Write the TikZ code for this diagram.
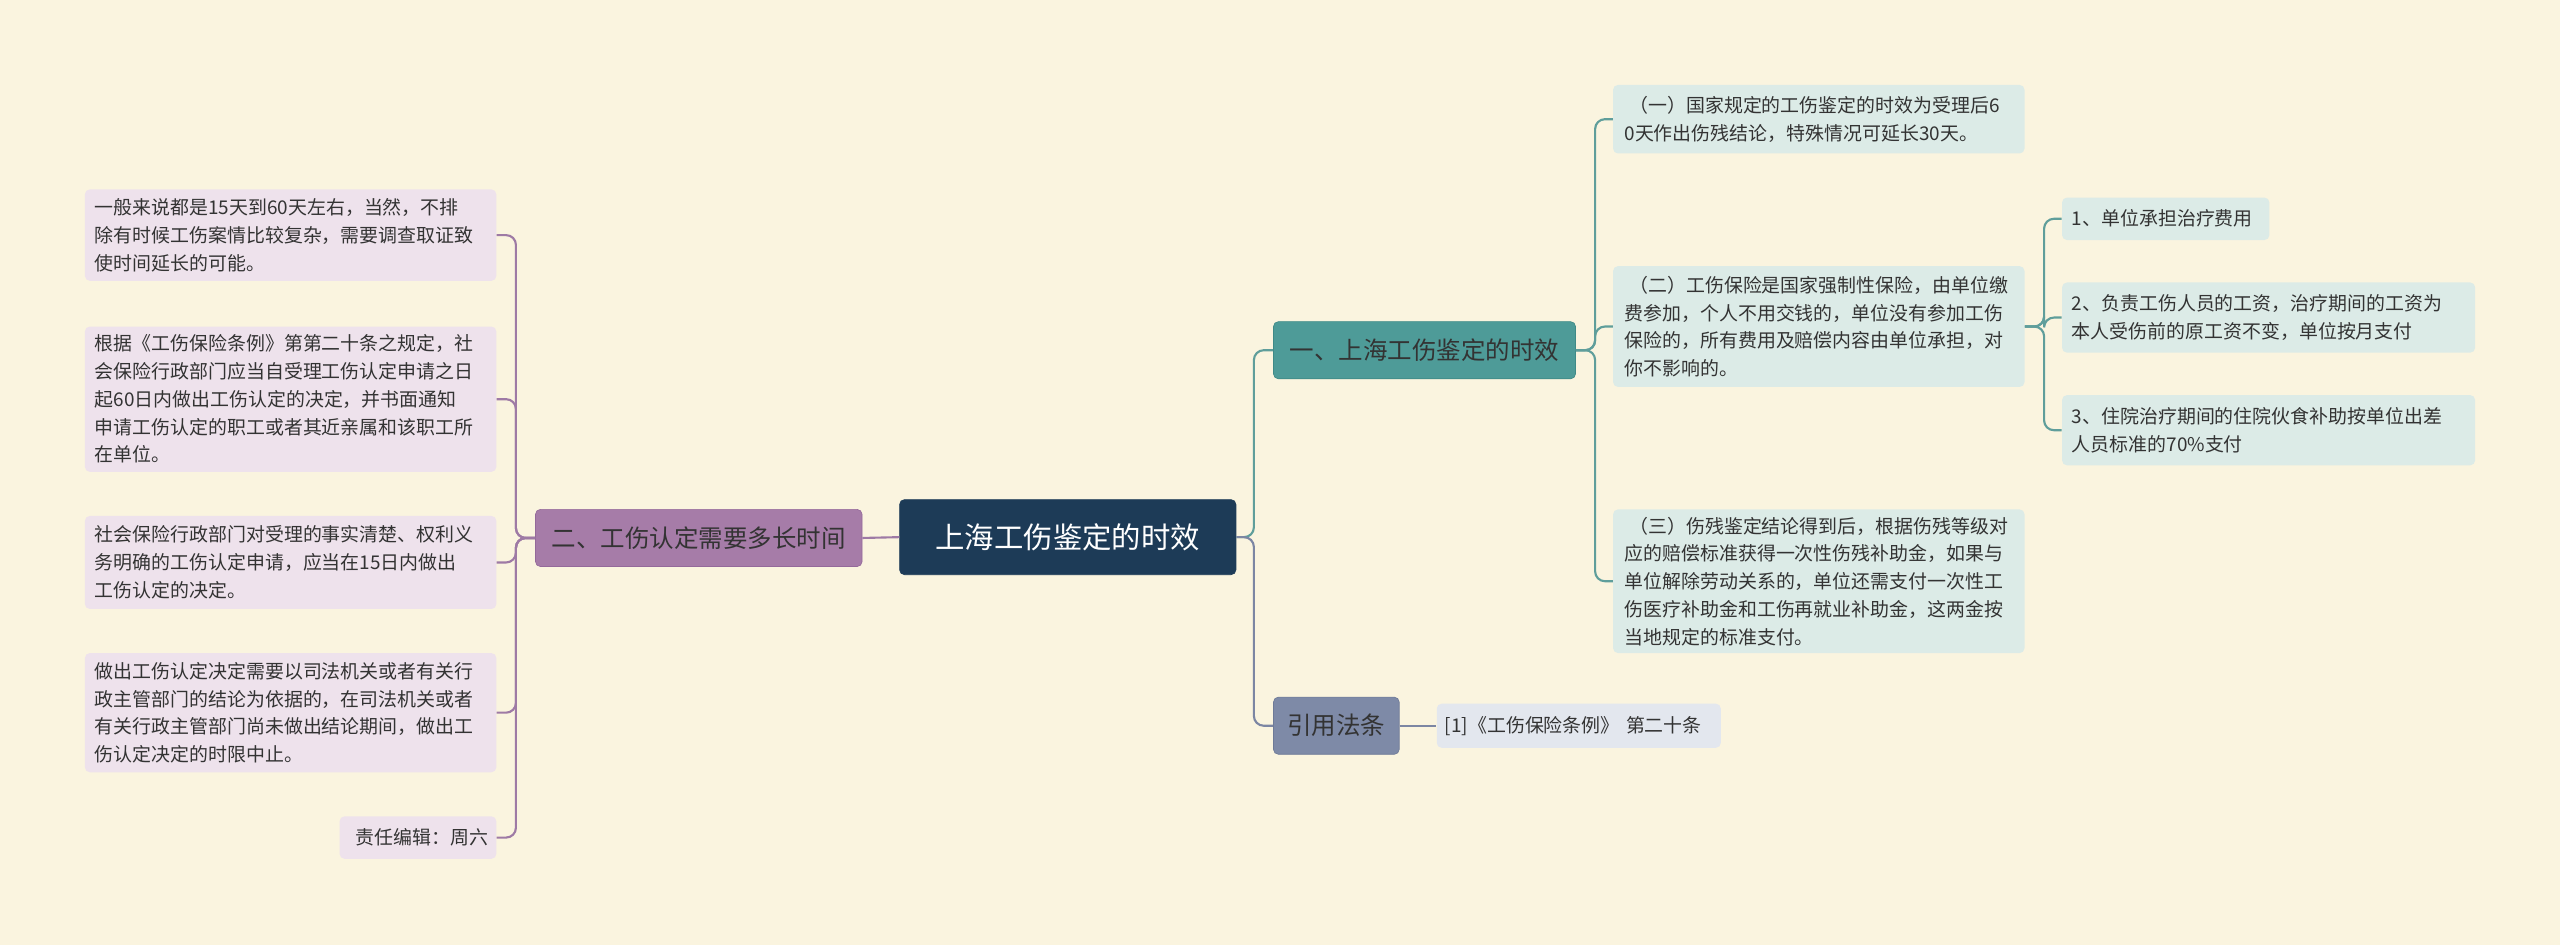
\documentclass[tikz,border=0pt]{standalone}
\usepackage{fontspec}
\setmainfont{Noto Sans CJK SC}
\definecolor{bg}{HTML}{FAF4DF}
\definecolor{leafc}{HTML}{DCEBE7}
\definecolor{leafp}{HTML}{EEE2EC}
\definecolor{refc}{HTML}{E3E7EE}
\definecolor{textc}{HTML}{333333}
\definecolor{linet}{HTML}{5F9E9B}
\definecolor{linep}{HTML}{9E7AA5}
\definecolor{lineg}{HTML}{7C86A3}
\definecolor{HTMLnavy}{HTML}{1D3B57}
\definecolor{tealc}{HTML}{4E9B98}
\definecolor{tealb}{HTML}{3F8A87}
\definecolor{purc}{HTML}{A67CA8}
\definecolor{purb}{HTML}{94699A}
\definecolor{greyc}{HTML}{7E8AA7}
\definecolor{greyb}{HTML}{6E7A97}
\begin{document}
\begin{tikzpicture}[x=1pt,y=-1pt,
  box/.style={rounded corners=3pt,inner sep=0pt,align=left,anchor=center},
  cleaf/.style={box,fill=leafc,text=textc,font=\fontsize{11.6}{17}\selectfont},
  pleaf/.style={box,fill=leafp,text=textc,font=\fontsize{11.6}{17}\selectfont},
  tline/.style={draw=linet,line width=1.3pt,rounded corners=6pt},
  pline/.style={draw=linep,line width=1.3pt,rounded corners=6pt},
  gline/.style={draw=lineg,line width=1.3pt,rounded corners=6pt}]
\fill[bg] (0,0) rectangle (1568,579);
\useasboundingbox (0,0) rectangle (1568,579);
% main nodes
\node[box,fill=HTMLnavy,minimum width=206pt,minimum height=46pt,text=white,font=\fontsize{18}{22}\selectfont,align=center,draw=HTMLnavy] (c) at (654,329) {上海工伤鉴定的时效};
\node[box,fill=tealc,draw=tealb,minimum width=185pt,minimum height=35pt,text=textc,font=\fontsize{15}{18}\selectfont,align=center] (t) at (872.5,214.5) {一、上海工伤鉴定的时效};
\node[box,fill=purc,draw=purb,minimum width=200pt,minimum height=35pt,text=textc,font=\fontsize{15}{18}\selectfont,align=center] (p) at (428,329.5) {二、工伤认定需要多长时间};
\node[box,fill=greyc,draw=greyb,minimum width=77pt,minimum height=35pt,text=textc,font=\fontsize{15}{18}\selectfont,align=center] (g) at (818.5,444.5) {引用法条};
% right leaves
\node[cleaf,minimum width=252pt,minimum height=42pt,text width=238pt] (a1) at (1114,73) {\hspace*{3pt}（一）国家规定的工伤鉴定的时效为受理后6\\0天作出伤残结论，特殊情况可延长30天。};
\node[cleaf,minimum width=252pt,minimum height=74pt,text width=238pt] (a2) at (1114,200) {\hspace*{3pt}（二）工伤保险是国家强制性保险，由单位缴\\费参加，个人不用交钱的，单位没有参加工伤\\保险的，所有费用及赔偿内容由单位承担，对\\你不影响的。};
\node[cleaf,minimum width=252pt,minimum height=88pt,text width=238pt] (a3) at (1114,356) {\hspace*{3pt}（三）伤残鉴定结论得到后，根据伤残等级对\\应的赔偿标准获得一次性伤残补助金，如果与\\单位解除劳动关系的，单位还需支付一次性工\\伤医疗补助金和工伤再就业补助金，这两金按\\当地规定的标准支付。};
\node[cleaf,minimum width=127pt,minimum height=26pt,text width=115pt] (b1) at (1326.5,134) {1、单位承担治疗费用};
\node[cleaf,minimum width=253pt,minimum height=43pt,text width=241pt] (b2) at (1389.5,194.5) {2、负责工伤人员的工资，治疗期间的工资为\\本人受伤前的原工资不变，单位按月支付};
\node[cleaf,minimum width=253pt,minimum height=43pt,text width=241pt] (b3) at (1389.5,263.5) {3、住院治疗期间的住院伙食补助按单位出差\\人员标准的70\%支付};
\node[box,fill=refc,text=textc,font=\fontsize{11.6}{17}\selectfont,minimum width=174pt,minimum height=27pt,text width=164pt] (r) at (967,444.5) {[1]《工伤保险条例》 第二十条};
% left leaves
\node[pleaf,minimum width=252pt,minimum height=56pt,text width=240pt] (l1) at (178,144) {一般来说都是15天到60天左右，当然，不排\\除有时候工伤案情比较复杂，需要调查取证致\\使时间延长的可能。};
\node[pleaf,minimum width=252pt,minimum height=89pt,text width=240pt] (l2) at (178,244.5) {根据《工伤保险条例》第第二十条之规定，社\\会保险行政部门应当自受理工伤认定申请之日\\起60日内做出工伤认定的决定，并书面通知\\申请工伤认定的职工或者其近亲属和该职工所\\在单位。};
\node[pleaf,minimum width=252pt,minimum height=57pt,text width=240pt] (l3) at (178,344.5) {社会保险行政部门对受理的事实清楚、权利义\\务明确的工伤认定申请，应当在15日内做出\\工伤认定的决定。};
\node[pleaf,minimum width=252pt,minimum height=73pt,text width=240pt] (l4) at (178,436.5) {做出工伤认定决定需要以司法机关或者有关行\\政主管部门的结论为依据的，在司法机关或者\\有关行政主管部门尚未做出结论期间，做出工\\伤认定决定的时限中止。};
\node[pleaf,minimum width=96pt,minimum height=26pt,text width=86pt,align=right] (l5) at (256,513) {责任编辑：周六};
% connectors
\draw[tline] (c.east) -- (768,329) |- (t.west);
\draw[gline] (c.east) -- (768,329) |- (g.west);
\draw[tline] (t.east) -- (977,214.5) |- (a1.west);
\draw[tline] (t.east) -- (977,214.5) |- (a2.west);
\draw[tline] (t.east) -- (977,214.5) |- (a3.west);
\draw[tline] (a2.east) -- (1252,200) |- (b1.west);
\draw[tline] (a2.east) -- (1252,200) |- (b2.west);
\draw[tline] (a2.east) -- (1252,200) |- (b3.west);
\draw[gline] (g.east) -- (r.west);
\draw[pline] (c.west) -- (p.east);
\foreach \l in {l1,l2,l3,l4,l5}{\draw[pline] (p.west) -- (316,329.5) |- (\l.east);}
\end{tikzpicture}
\end{document}
